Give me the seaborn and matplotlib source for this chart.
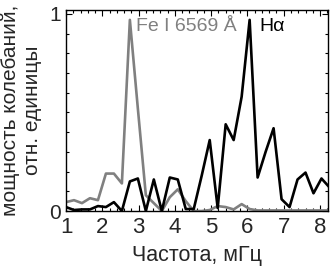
import numpy as np
import pandas as pd
import matplotlib
matplotlib.use("Agg")
import matplotlib.pyplot as plt
import seaborn as sns
from matplotlib.ticker import MultipleLocator

# frequency grid (mHz)
freq = [1.00, 1.22, 1.44, 1.66, 1.88, 2.10, 2.32, 2.54, 2.76, 2.98,
        3.20, 3.42, 3.64, 3.86, 4.08, 4.30, 4.52, 4.74, 4.96, 5.18,
        5.40, 5.62, 5.84, 6.06, 6.28, 6.50, 6.72, 6.94, 7.16, 7.38,
        7.60, 7.82, 8.04, 8.26]

# normalized oscillation power, Fe I 6569 A
fe_power = [0.045, 0.055, 0.040, 0.065, 0.055, 0.19, 0.19, 0.14, 0.97, 0.52,
            0.08, 0.04, 0.00, 0.07, 0.11, 0.05, 0.00, 0.00, 0.005, 0.025,
            0.02, 0.008, 0.035, 0.01, 0.003, 0.003, 0.003, 0.003, 0.003, 0.003,
            0.003, 0.003, 0.003, 0.003]

# normalized oscillation power, H-alpha
ha_power = [0.02, 0.005, 0.008, 0.008, 0.025, 0.02, 0.045, 0.00, 0.15, 0.165,
            0.00, 0.16, 0.00, 0.17, 0.16, 0.01, 0.01, 0.18, 0.36, 0.015,
            0.44, 0.36, 0.58, 0.97, 0.17, 0.30, 0.42, 0.06, 0.02, 0.16,
            0.195, 0.09, 0.165, 0.12]

line_names = ["Fe I 6569 Å", "Hα"]
x_ticks = [1, 2, 3, 4, 5, 6, 7, 8]
y_ticks = [0, 1]

sns.set_style("ticks")
plt.rcParams["font.family"] = ["Liberation Sans", "DejaVu Sans"]

n = len(freq)
df = pd.DataFrame({
    "f": freq + freq,
    "p": fe_power + ha_power,
    "line": [line_names[0]] * n + [line_names[1]] * n,
})

fig = plt.figure(figsize=(3.3, 2.67), dpi=100)
ax = fig.add_axes([0.2, 0.2097, 0.794, 0.7528])

sns.lineplot(data=df, x="f", y="p", hue="line", hue_order=line_names,
             palette={line_names[0]: "#808080", line_names[1]: "black"},
             linewidth=1.9, legend=False, ax=ax, estimator=None, sort=False)

ax.set_xlim(1, 8.22)
ax.set_ylim(0, 1.02)
ax.set_xticks(x_ticks)
ax.set_xticklabels([str(t) for t in x_ticks])
ax.set_yticks(y_ticks)
ax.set_yticklabels([str(t) for t in y_ticks])
ax.xaxis.set_minor_locator(MultipleLocator(0.2))
ax.yaxis.set_minor_locator(MultipleLocator(0.1))
ax.tick_params(which="both", direction="in", top=True, right=True,
               color="black", width=0.8)
ax.tick_params(which="major", length=4)
ax.tick_params(which="minor", length=2.5)
ax.tick_params(axis="x", which="major", labelsize=16, pad=4.5)
ax.tick_params(axis="y", which="major", labelsize=15, pad=3.5)
for s in ax.spines.values():
    s.set_color("black")
    s.set_linewidth(1.0)

ax.text(2.93, 0.934, line_names[0], color="#808080", fontsize=14, va="center")
ax.text(6.34, 0.934, line_names[1], color="black", fontsize=14, va="center")

ax.set_xlabel("Частота, мГц", fontsize=15.5, labelpad=5)
ax.set_ylabel("мощность колебаний,\nотн. единицы", fontsize=15)
ax.yaxis.set_label_coords(-0.09, 0.5)

fig.savefig("out.png", dpi=100)
